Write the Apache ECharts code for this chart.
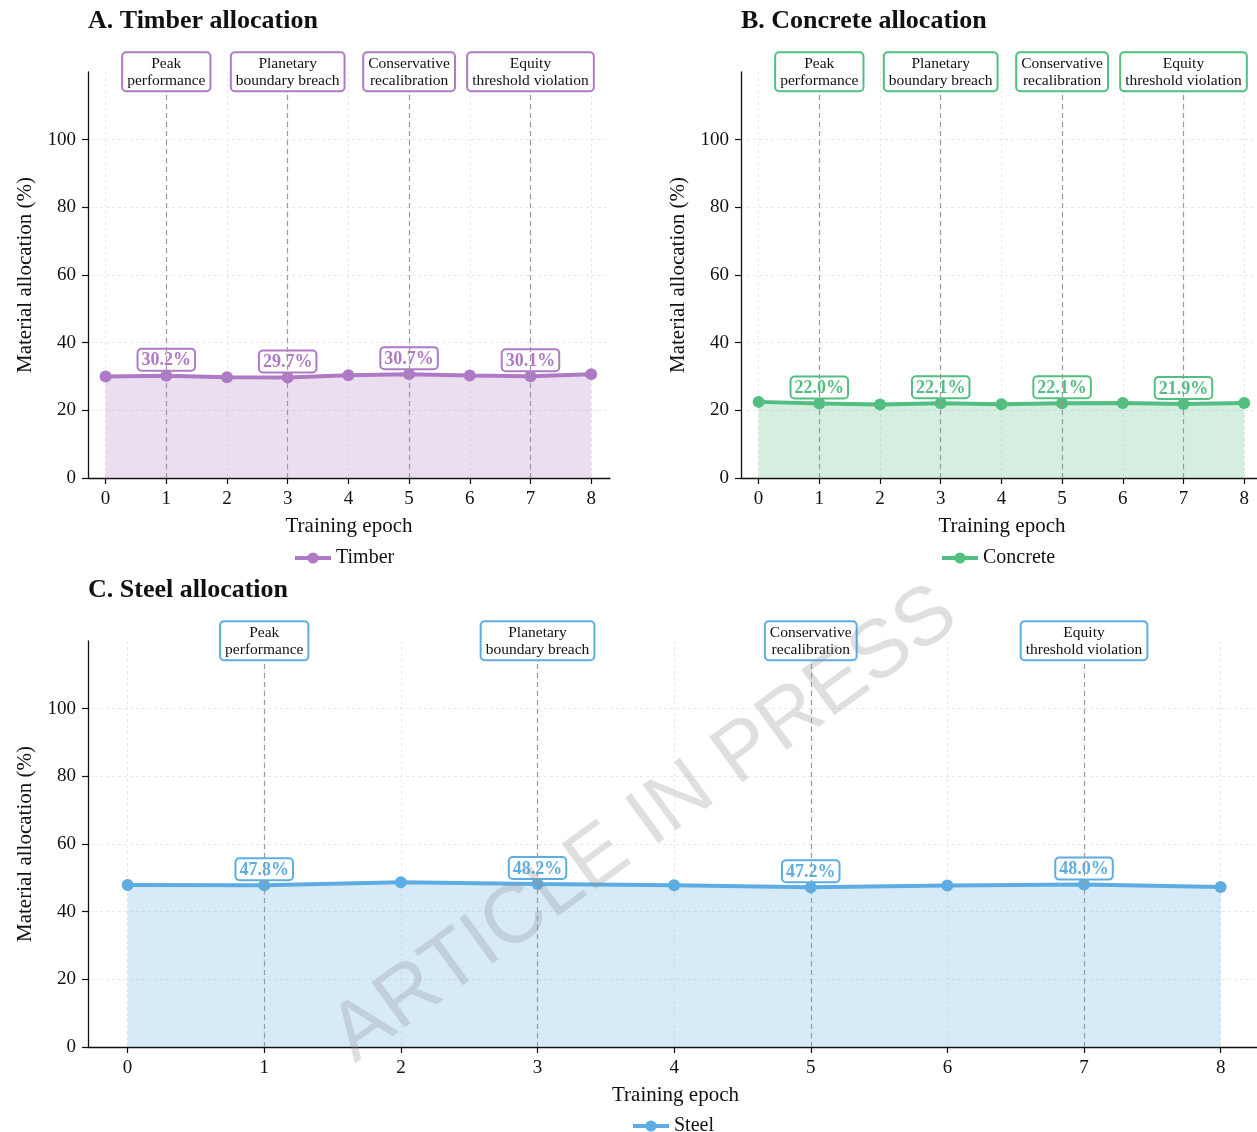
<!DOCTYPE html>
<html><head><meta charset="utf-8">
<script src="https://cdn.jsdelivr.net/npm/echarts@6/dist/echarts.min.js"></script>
<style>html,body{margin:0;padding:0;background:#fff}#c{width:1257px;height:1132px}</style>
</head><body><div id="c"></div>
<script>
const epochs = [0, 1, 2, 3, 4, 5, 6, 7, 8];
const timber = [30.0, 30.2, 29.8, 29.7, 30.4, 30.7, 30.3, 30.1, 30.7];
const concrete = [22.5, 22.0, 21.7, 22.1, 21.8, 22.1, 22.2, 21.9, 22.2];
const steel = [47.9, 47.8, 48.7, 48.2, 47.8, 47.2, 47.7, 48.0, 47.3];
const eventEpochs = [1, 3, 5, 7];
const eventNames = ['Peak\nperformance', 'Planetary\nboundary breach', 'Conservative\nrecalibration', 'Equity\nthreshold violation'];
const yTicks = [0, 20, 40, 60, 80, 100];
const panelTitles = ['A. Timber allocation', 'B. Concrete allocation', 'C. Steel allocation'];
const seriesNames = ['Timber', 'Concrete', 'Steel'];
const seriesValues = [timber, concrete, steel];
const colors = ['#AF7AC5', '#52BE80', '#5DADE2'];

const FF = '"Liberation Serif", "Times New Roman", serif';
const grids = [
  {left: 88, top: 72, width: 522, height: 406, outerBoundsMode: 'none', containLabel: false},
  {left: 741, top: 72, width: 522, height: 406, outerBoundsMode: 'none', containLabel: false},
  {left: 88, top: 641, width: 1175, height: 406, outerBoundsMode: 'none', containLabel: false}
];
const titlePos = [{left: 88, top: 8}, {left: 741, top: 8}, {left: 88, top: 577}];
const legendPos = [{left: 293, top: 548}, {left: 940, top: 548}, {left: 631, top: 1116}];
const ANN_TOP = 114.3;

const chart = echarts.init(document.getElementById('c'), null, {renderer: 'canvas'});

const option = {
  backgroundColor: '#fff',
  animation: false,
  title: panelTitles.map((t, i) => ({
    text: t, left: titlePos[i].left, top: titlePos[i].top, padding: 0,
    textStyle: {fontSize: 26, fontWeight: 'bold', fontFamily: FF, color: '#111'}
  })),
  legend: seriesNames.map((n, i) => ({
    data: [n], left: legendPos[i].left, top: legendPos[i].top, padding: 0,
    itemWidth: 36, itemHeight: 14, itemGap: 5,
    lineStyle: {width: 4},
    textStyle: {fontSize: 20, fontFamily: FF, color: '#111'}
  })),
  grid: grids,
  xAxis: grids.map((g, i) => ({
    type: 'value', gridIndex: i, min: -0.29, max: 8.31,
    name: 'Training epoch', nameLocation: 'middle', nameGap: 38, nameMoveOverlap: false,
    nameTextStyle: {fontSize: 21, fontFamily: FF, color: '#111'},
    axisLine: {show: true, onZero: false, lineStyle: {color: '#111', width: 1.3}},
    axisTick: {show: true, length: 6, customValues: epochs, lineStyle: {color: '#111', width: 1.2}},
    axisLabel: {customValues: epochs, margin: 12, fontSize: 19, fontFamily: FF, color: '#111'},
    splitLine: {show: true, lineStyle: {color: '#e4e4e4', type: [3, 3], width: 0.8}}
  })),
  yAxis: grids.map((g, i) => ({
    type: 'value', gridIndex: i, min: 0, max: 120,
    name: 'Material allocation (%)', nameLocation: 'middle', nameGap: 52, nameMoveOverlap: false,
    nameTextStyle: {fontSize: 21, fontFamily: FF, color: '#111'},
    axisLine: {show: true, onZero: false, lineStyle: {color: '#111', width: 1.3}},
    axisTick: {show: true, length: 6, customValues: yTicks, lineStyle: {color: '#111', width: 1.2}},
    axisLabel: {customValues: yTicks, margin: 12, fontSize: 19, fontFamily: FF, color: '#111'},
    splitLine: {show: true, lineStyle: {color: '#e4e4e4', type: [3, 3], width: 0.8}}
  })),
  series: seriesNames.map((n, i) => ({
    type: 'line', name: n, xAxisIndex: i, yAxisIndex: i,
    data: epochs.map((e, j) => {
      const item = {value: [e, seriesValues[i][j]]};
      if (eventEpochs.includes(e)) item.label = {show: true};
      return item;
    }),
    symbol: 'circle', symbolSize: 12,
    lineStyle: {width: 4, color: colors[i]},
    itemStyle: {color: colors[i]},
    areaStyle: {color: colors[i], opacity: 0.25},
    label: {
      show: false, position: 'top', distance: 0,
      formatter: p => p.value[1].toFixed(1) + '%',
      color: colors[i], fontWeight: 'bold', fontSize: 18, fontFamily: FF,
      backgroundColor: '#fff', borderColor: colors[i], borderWidth: 2, borderRadius: 3,
      padding: [2, 3, 0, 3]
    },
    markLine: {
      silent: true, symbol: 'none', animation: false,
      lineStyle: {color: '#999', type: [5, 4], width: 1.2},
      label: {
        show: true, position: 'end', distance: 1,
        formatter: p => p.name,
        color: '#111', fontSize: 15.5, lineHeight: 17, fontFamily: FF, align: 'center',
        backgroundColor: '#fff', borderColor: colors[i], borderWidth: 2, borderRadius: 3,
        padding: [2, 4, 1, 4]
      },
      data: eventEpochs.map((e, k) => [
        {coord: [e, 0], name: eventNames[k]},
        {coord: [e, ANN_TOP], name: eventNames[k]}
      ])
    }
  })),
  graphic: [{
    type: 'text', x: 645, y: 825, rotation: 36 * Math.PI / 180, silent: true, z: 100,
    style: {
      text: 'ARTICLE IN PRESS', font: '82px "Liberation Sans", Arial, sans-serif',
      fill: 'rgba(140,140,140,0.28)', align: 'center', verticalAlign: 'middle'
    }
  }]
};
chart.setOption(option);
</script>
</body></html>
